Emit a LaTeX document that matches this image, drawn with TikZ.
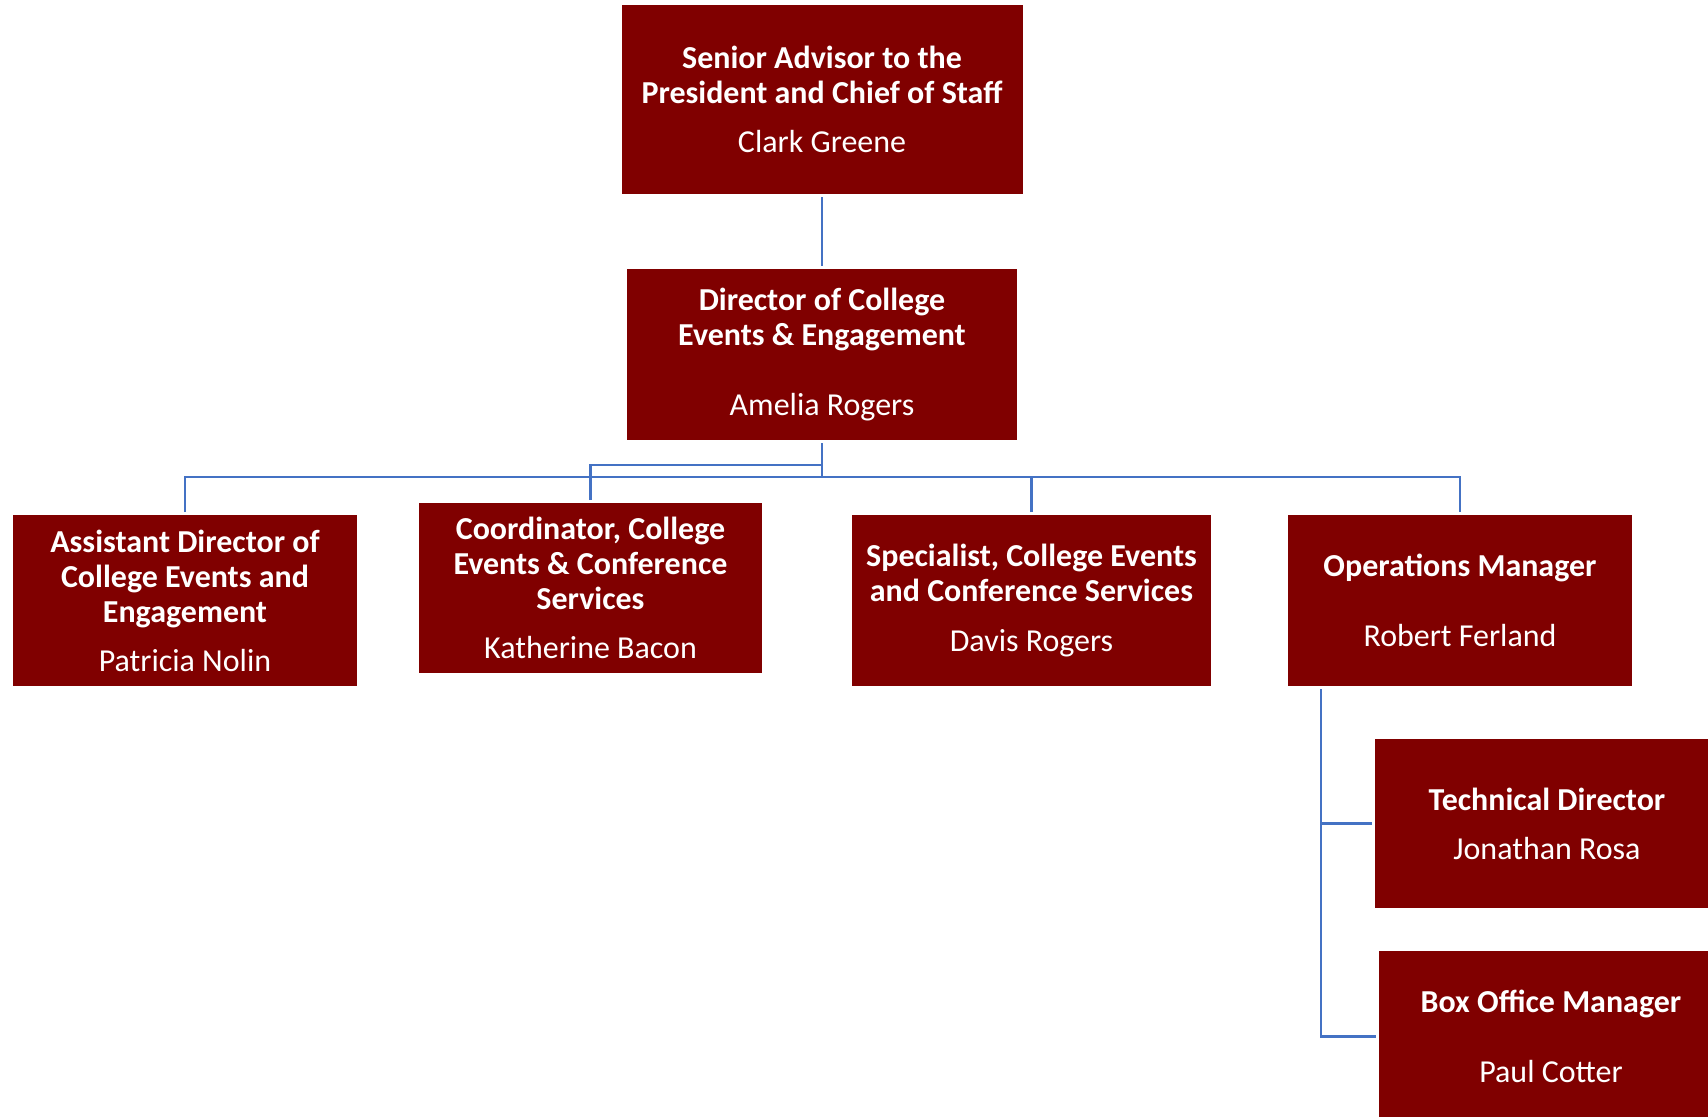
\documentclass[tikz,border=0pt]{standalone}
\usepackage{fontspec}
\setmainfont{Carlito}
\usetikzlibrary{calc}
\definecolor{boxred}{RGB}{128,0,0}
\definecolor{linkblue}{RGB}{68,114,196}

\begin{document}
\begin{tikzpicture}[
  role/.style={fill=boxred, text=white, align=center, inner sep=0pt,
    outer sep=0.03cm, minimum width=3.44cm, minimum height=1.71cm,
    font={\fontsize{9.1}{9.96}\selectfont\bfseries}},
  link/.style={draw=linkblue, line width=0.75pt}]
  % frame 1708 x 1117 px, 1 px = 0.01 cm, y downwards
  \clip (0,0) rectangle (17.08,-11.17);
  \node[role, minimum width=4.01cm, minimum height=1.89cm] (sa) at (8.22,-0.995)
    {Senior Advisor to the\\President and Chief of Staff\\[4pt]\mdseries Clark Greene};
  \node[role, minimum width=3.90cm] (dir) at (8.22,-3.545)
    {Director of College\\Events \& Engagement\\[10pt]\mdseries Amelia Rogers};
  \node[role] (asst) at (1.85,-6.005)
    {Assistant Director of\\College Events and\\Engagement\\[4pt]\mdseries Patricia Nolin};
  \node[role, minimum width=3.43cm, minimum height=1.70cm] (coord) at (5.905,-5.88)
    {Coordinator, College\\Events \& Conference\\Services\\[4pt]\mdseries Katherine Bacon};
  \node[role, minimum width=3.59cm] (spec) at (10.315,-6.005)
    {Specialist, College Events\\and Conference Services\\[4pt]\mdseries Davis Rogers};
  \node[role] (ops) at (14.60,-6.005)
    {Operations Manager\\[10pt]\mdseries Robert Ferland};
  % these two run past the right and bottom edges
  \node[role, minimum height=1.69cm] (tech) at (15.47,-8.235)
    {Technical Director\\[4pt]\mdseries Jonathan Rosa};
  \node[role] (box) at (15.51,-10.365)
    {Box Office Manager\\[10pt]\mdseries Paul Cotter};
  % connectors
  \draw[link] (sa.south) -- (dir.north);
  \coordinate (bus) at ($(dir.south)+(0,-0.34)$);
  \draw[link] (dir.south) -- (bus);
  \draw[link] (asst.north) |- (bus) -| (ops.north);
  \draw[link] (spec.north) |- (bus);
  \draw[link] (coord.north) |- ($(bus)+(0,0.12)$);
  \draw[link] ([xshift=0.36cm]ops.south west) |- (tech.west);
  \draw[link] ([xshift=0.36cm]ops.south west) |- (box.west);
\end{tikzpicture}
\end{document}
